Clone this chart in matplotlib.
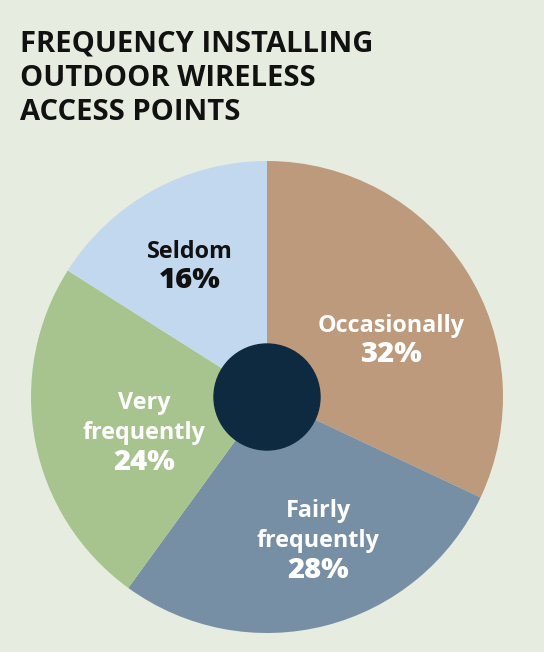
import matplotlib
matplotlib.use("Agg")
import matplotlib.pyplot as plt

# data
labels = ["Occasionally", "Fairly\nfrequently", "Very\nfrequently", "Seldom"]
values = [32, 28, 24, 16]
colors = ["#bd9a7c", "#778fa5", "#a8c48e", "#c2d8ee"]
text_colors = ["white", "white", "white", "#111111"]

bg = "#e6ecdf"
W, H = 544, 652

fig = plt.figure(figsize=(W / 100, H / 100), dpi=100, facecolor=bg)
ax = fig.add_axes([0, 0, 1, 1])

cx, cy, r = 267, H - 397, 236
wedges, _ = ax.pie(values, colors=colors, startangle=90, counterclock=False,
                   center=(cx, cy), radius=r, frame=True,
                   wedgeprops=dict(linewidth=0))
ax.set_xlim(0, W)
ax.set_ylim(0, H)
ax.set_aspect("equal")
ax.axis("off")
ax.add_patch(plt.Circle((cx, cy), 53, color="#0e2a40", zorder=5))

# label anchor (name block centre, percentage centre) in pixels
name_pos = [(391, 326), (318, 526), (144, 418), (190, 252)]
pct_pos = [(391, 355), (318, 570), (144, 462), (190, 281)]
for lab, v, tc, (nx, ny), (px, py) in zip(labels, values, text_colors, name_pos, pct_pos):
    ax.text(nx, H - ny, lab, ha="center", va="center", color=tc,
            fontsize=16.8, fontfamily="Open Sans", fontweight="bold",
            linespacing=1.35)
    ax.text(px, H - py, f"{v}%", ha="center", va="center", color=tc,
            fontsize=21, fontfamily="Open Sans", fontweight="heavy")

fig.text(20 / W, 1 - 29 / H, "FREQUENCY INSTALLING\nOUTDOOR WIRELESS\nACCESS POINTS",
         ha="left", va="top", color="#111111", fontsize=21,
         fontfamily="Open Sans", fontweight="bold", linespacing=1.26)

fig.savefig("out.png", dpi=100, facecolor=bg)
